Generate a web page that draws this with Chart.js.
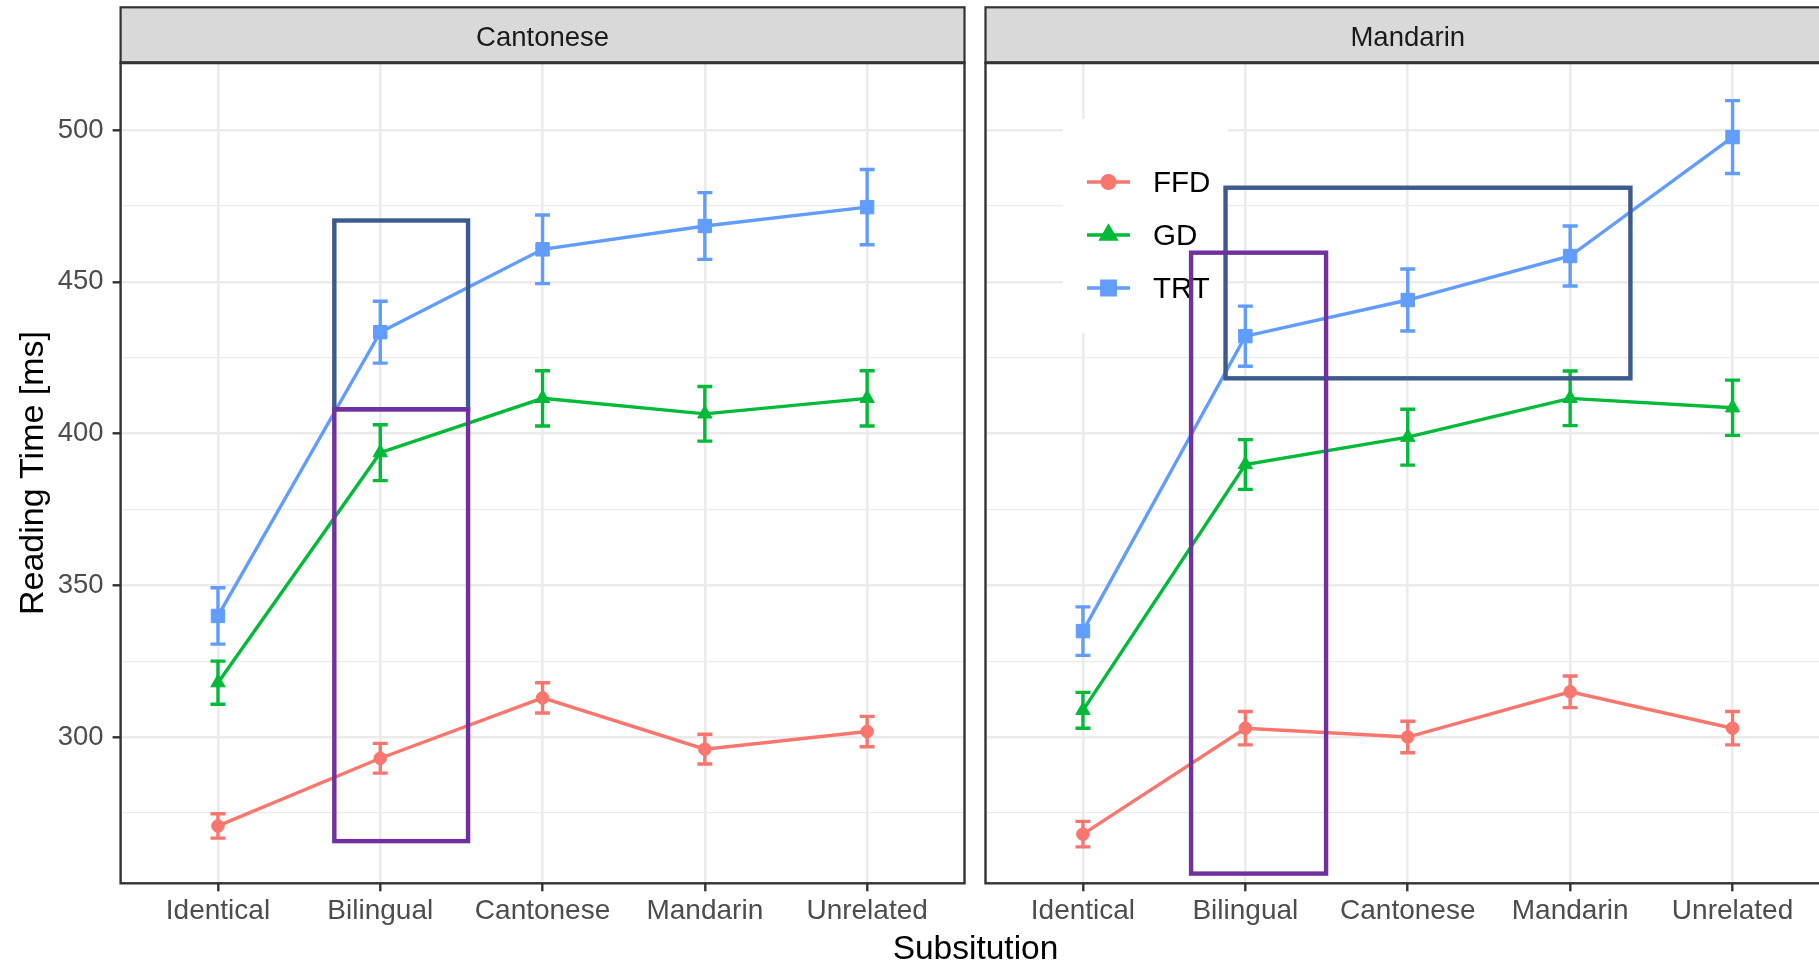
<!DOCTYPE html>
<html><head><meta charset="utf-8">
<script src="https://cdn.jsdelivr.net/npm/chart.js@4.4.1/dist/chart.umd.min.js"></script>
<style>
html,body{margin:0;padding:0;background:#fff;overflow:hidden;width:1819px;height:966px;}
#wrap{position:relative;width:1819px;height:966px;overflow:hidden;background:#fff;}
canvas{position:absolute;top:0;}
#cL{left:0}
#cR{left:975px}
#xtitle{position:absolute;left:775.5px;width:400px;top:927.6px;font:33.5px 'Liberation Sans',Arial,sans-serif;line-height:40px;text-align:center;color:#000;}
</style></head>
<body><div id="wrap">
<canvas id="cL" width="975" height="966"></canvas>
<canvas id="cR" width="870" height="966"></canvas>
<div id="xtitle">Subsitution</div>
</div>
<script>
// ---------- data ----------
const categories = ['Identical', 'Bilingual', 'Cantonese', 'Mandarin', 'Unrelated'];
const panelNames = ['Cantonese', 'Mandarin'];
const seriesNames = ['FFD', 'GD', 'TRT'];

const cantoneseFFD = [270.7, 293.0, 312.9, 296.0, 301.8];
const cantoneseFFDErr = [4.0, 4.9, 5.0, 4.9, 5.0];
const cantoneseGD = [317.9, 393.7, 411.6, 406.5, 411.6];
const cantoneseGDErr = [7.1, 9.2, 9.1, 9.0, 9.1];
const cantoneseTRT = [339.9, 433.4, 460.7, 468.4, 474.6];
const cantoneseTRTErr = [9.3, 10.2, 11.3, 11.0, 12.4];

const mandarinFFD = [268.0, 302.9, 300.0, 314.9, 302.9];
const mandarinFFDErr = [4.2, 5.5, 5.2, 5.2, 5.5];
const mandarinGD = [308.8, 389.8, 398.8, 411.6, 408.5];
const mandarinGDErr = [5.9, 8.2, 9.2, 9.0, 9.1];
const mandarinTRT = [334.9, 432.1, 444.0, 458.5, 497.7];
const mandarinTRTErr = [8.0, 9.9, 10.2, 9.9, 12.0];

const yTickValues = [275, 300, 325, 350, 375, 400, 425, 450, 475, 500];
const yTickLabels = ['300', '350', '400', '450', '500'];
const yRange = [251.8, 522.2];

// highlight boxes (data coordinates: category index, ms)
const cantoneseBoxes = [
  {color: '#3B5B8C', x0: 0.717, x1: 1.541, y0: 408.0, y1: 470.2},
  {color: '#7030A0', x0: 0.717, x1: 1.541, y0: 265.7, y1: 408.0}
];
const mandarinBoxes = [
  {color: '#3B5B8C', x0: 0.878, x1: 3.371, y0: 418.2, y1: 481.0},
  {color: '#7030A0', x0: 0.666, x1: 1.497, y0: 255.0, y1: 459.6}
];

// ---------- styling ----------
const seriesColors = ['#F8766D', '#00BA38', '#619CFF'];
const seriesPoint = ['circle', 'triangle', 'rect'];
const seriesRadius = [6.3, 8.3, 9.5];
const FONT = "'Liberation Sans', Arial, sans-serif";
Chart.defaults.font.family = FONT;

function makeDatasets(vals, errs) {
  return vals.map((v, s) => ({
    label: seriesNames[s],
    data: categories.map((c, i) => ({x: i, y: v[i]})),
    errors: errs[s],
    borderColor: seriesColors[s],
    backgroundColor: seriesColors[s],
    pointBackgroundColor: seriesColors[s],
    pointBorderColor: seriesColors[s],
    pointBorderWidth: 1,
    pointStyle: seriesPoint[s],
    pointRadius: seriesRadius[s],
    borderWidth: 3.4,
    tension: 0
  }));
}

const facetPlugin = {
  id: 'facet',
  beforeDatasetsDraw(chart, args, opts) {
    const ctx = chart.ctx, xs = chart.scales.x, ys = chart.scales.y;
    if (opts.legend) {
      const L = opts.legend;
      ctx.save();
      ctx.fillStyle = '#ffffff';
      ctx.fillRect(L.x, L.y, L.w, L.h);
      seriesNames.forEach((n, s) => {
        const ly = L.firstY + s * L.gap;
        ctx.strokeStyle = seriesColors[s];
        ctx.fillStyle = seriesColors[s];
        ctx.lineWidth = 3.4;
        ctx.beginPath(); ctx.moveTo(L.lineX0, ly); ctx.lineTo(L.lineX1, ly); ctx.stroke();
        Chart.helpers.drawPoint(ctx, {pointStyle: seriesPoint[s], radius: seriesRadius[s], rotation: 0, borderWidth: 1},
          (L.lineX0 + L.lineX1) / 2, ly);
        ctx.fillStyle = '#000';
        ctx.font = L.fontSize + 'px ' + FONT;
        ctx.textBaseline = 'middle';
        ctx.textAlign = 'left';
        ctx.fillText(n, L.textX, ly + 2);
      });
      ctx.restore();
    }
    chart.data.datasets.forEach(ds => {
      ctx.save();
      ctx.strokeStyle = ds.borderColor;
      ctx.lineWidth = 3.4;
      ds.data.forEach((p, i) => {
        const e = ds.errors[i];
        const x = xs.getPixelForValue(p.x);
        const yt = ys.getPixelForValue(p.y + e), yb = ys.getPixelForValue(p.y - e);
        ctx.beginPath();
        ctx.moveTo(x, yt); ctx.lineTo(x, yb);
        ctx.moveTo(x - 7.5, yt); ctx.lineTo(x + 7.5, yt);
        ctx.moveTo(x - 7.5, yb); ctx.lineTo(x + 7.5, yb);
        ctx.stroke();
      });
      ctx.restore();
    });
  },
  afterDraw(chart, args, opts) {
    const ctx = chart.ctx, ca = chart.chartArea, xs = chart.scales.x, ys = chart.scales.y;
    ctx.save();
    // panel border
    ctx.strokeStyle = '#333333';
    ctx.lineWidth = 2.4;
    ctx.strokeRect(ca.left, ca.top, ca.right - ca.left, ca.bottom - ca.top);
    // strip
    const stripTop = 7.3;
    ctx.fillStyle = '#D9D9D9';
    ctx.fillRect(ca.left, stripTop, ca.right - ca.left, ca.top - stripTop);
    ctx.lineWidth = 2.2;
    ctx.strokeRect(ca.left, stripTop, ca.right - ca.left, ca.top - stripTop);
    ctx.lineWidth = 3;
    ctx.beginPath(); ctx.moveTo(ca.left, ca.top); ctx.lineTo(ca.right, ca.top); ctx.stroke();
    ctx.fillStyle = '#1A1A1A';
    ctx.font = '27.5px ' + FONT;
    ctx.textAlign = 'center';
    ctx.textBaseline = 'middle';
    ctx.fillText(opts.title, (ca.left + ca.right) / 2, (stripTop + ca.top) / 2 + 3);
    // highlight boxes
    (opts.boxes || []).forEach(b => {
      ctx.strokeStyle = b.color;
      ctx.lineWidth = 4.4;
      ctx.lineJoin = 'miter';
      const x0 = xs.getPixelForValue(b.x0), x1 = xs.getPixelForValue(b.x1);
      const y0 = ys.getPixelForValue(b.y1), y1 = ys.getPixelForValue(b.y0);
      ctx.strokeRect(x0, y0, x1 - x0, y1 - y0);
    });
    ctx.restore();
  }
};

function gridWidth(ctx) {
  return (ctx.tick && ctx.tick.value % 50 === 0) ? 2.6 : 1.3;
}

function makeChart(canvasId, panelIdx, vals, errs, boxes, showY, padding, legend) {
  return new Chart(document.getElementById(canvasId), {
    type: 'line',
    data: {datasets: makeDatasets(vals, errs)},
    plugins: [facetPlugin],
    options: {
      responsive: false,
      animation: false,
      devicePixelRatio: 1,
      layout: {padding: padding},
      plugins: {
        legend: {display: false},
        title: {display: false},
        tooltip: {enabled: false},
        facet: {title: panelNames[panelIdx], boxes: boxes, legend: legend}
      },
      scales: {
        x: {
          type: 'linear',
          min: -0.6, max: 4.6,
          afterBuildTicks: s => { s.ticks = categories.map((c, i) => ({value: i})); },
          afterFit: s => { s.height = 82.7 - padding.bottom; },
          border: {display: false},
          grid: {color: '#EBEBEB', lineWidth: 2.6, tickColor: '#333333', tickWidth: 2.4, tickLength: 8},
          ticks: {
            autoSkip: false, maxRotation: 0, minRotation: 0, padding: 3,
            color: '#4D4D4D', font: {size: 28},
            callback: v => categories[v]
          }
        },
        y: {
          type: 'linear',
          min: yRange[0], max: yRange[1],
          afterBuildTicks: s => { s.ticks = yTickValues.map(v => ({value: v})); },
          afterFit: s => { s.width = showY ? 120.6 : 0; },
          border: {display: false},
          grid: {
            color: '#EBEBEB',
            lineWidth: gridWidth,
            drawTicks: showY,
            tickLength: 8,
            tickWidth: 2.4,
            tickColor: c => (c.tick && c.tick.value % 50 === 0) ? '#333333' : 'rgba(0,0,0,0)'
          },
          title: showY ? {display: true, text: 'Reading Time [ms]', color: '#000', font: {size: 34}, padding: {top: 12.8, bottom: 0}} : {display: false},
          ticks: {
            display: showY, autoSkip: false, padding: 9,
            color: '#4D4D4D', font: {size: 27.5},
            callback: v => yTickLabels.includes(String(v)) ? String(v) : ''
          }
        }
      }
    }
  });
}

makeChart('cL', 0,
  [cantoneseFFD, cantoneseGD, cantoneseTRT],
  [cantoneseFFDErr, cantoneseGDErr, cantoneseTRTErr],
  cantoneseBoxes, true, {left: 0, top: 62.7, right: 8.6, bottom: 0}, null);

makeChart('cR', 1,
  [mandarinFFD, mandarinGD, mandarinTRT],
  [mandarinFFDErr, mandarinGDErr, mandarinTRTErr],
  mandarinBoxes, false, {left: 9.7, top: 62.7, right: 15, bottom: 0},
  {x: 88, y: 119, w: 165, h: 214, firstY: 182, gap: 53, lineX0: 112, lineX1: 155, textX: 178, fontSize: 29.5});
</script>
</body></html>
